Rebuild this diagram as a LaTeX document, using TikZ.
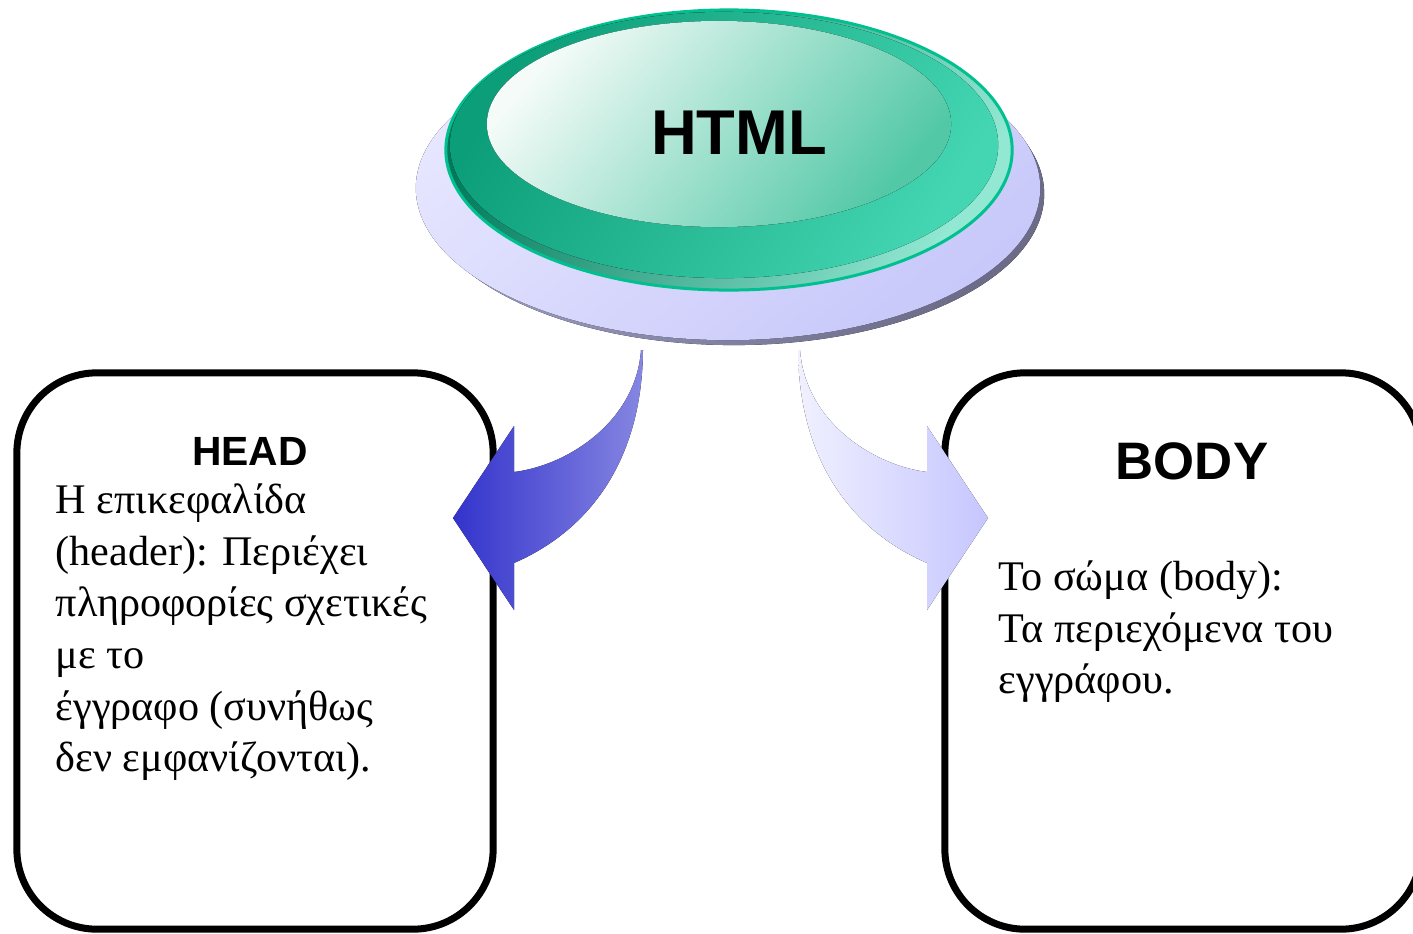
\documentclass[tikz,border=0pt]{standalone}
\usepackage{fontspec}
\setmainfont{Liberation Serif}
\setsansfont{Liberation Sans}
\usetikzlibrary{positioning}

\definecolor{discA}{HTML}{E6E6FF}
\definecolor{discB}{HTML}{C8C8FA}
\definecolor{rimA}{HTML}{A4A4CC}
\definecolor{rimB}{HTML}{6C6C88}
\definecolor{capA}{HTML}{00795A}
\definecolor{capB}{HTML}{92E8D2}
\definecolor{ringA}{HTML}{0C9E78}
\definecolor{ringB}{HTML}{44D6B2}
\definecolor{topA}{HTML}{F4FBF8}
\definecolor{topB}{HTML}{52C8A6}
\definecolor{capedge}{HTML}{00C090}
\definecolor{arrowA}{HTML}{3333CC}
\definecolor{arrowB}{HTML}{8686E2}
\definecolor{arrowC}{HTML}{F0F0FF}
\definecolor{arrowD}{HTML}{C6C6FF}

\tikzset{
  box/.style={draw=black, line width=0.07cm, rounded corners=0.8cm,
    minimum width=4.76cm, minimum height=5.56cm, inner sep=0pt},
  title/.style={font=\sffamily\bfseries},
  boxtext/.style={align=left, inner sep=0pt, anchor=north west,
    font=\fontsize{12}{14.7}\selectfont}
}

\begin{document}
\begin{tikzpicture}[x=0.01cm,y=-0.01cm]
    \useasboundingbox (0,0) rectangle (1413,933);
    \fill[top color=rimA, bottom color=rimB, shading angle=60] (734,194) ellipse [x radius=3.1cm, y radius=1.51cm];
    \fill[top color=discA, bottom color=discB, shading angle=40] (728,188) ellipse [x radius=3.12cm, y radius=1.52cm];
    \fill[top color=capA, bottom color=capB, shading angle=60] (729,150) ellipse [x radius=2.83cm, y radius=1.4cm];
    \draw[capedge, line width=0.03cm] (729,150) ellipse [x radius=2.83cm, y radius=1.4cm];
    \fill[top color=ringA, bottom color=ringB, shading angle=60] (724,145) ellipse [x radius=2.74cm, y radius=1.33cm];
    \fill[top color=topA, bottom color=topB, shading angle=50] (719,124) ellipse [x radius=2.32cm, y radius=1.03cm];
    \node[title, font=\sffamily\bfseries\fontsize{18}{20}\selectfont] (html) at (739,133) {HTML};
    \node[box] (headbox) at (255,651) {};
    \node[box] (bodybox) at (1183,651) {};
    \fill[left color=arrowA, right color=arrowB] (641,350) .. controls (636,420) and (570,465) .. (514,472)
      -- (514,426) -- (453,518) -- (514,610) -- (514,563) .. controls (590,530) and (642,460) .. (643,350) -- cycle;
    \fill[left color=arrowC, right color=arrowD] (800,350) .. controls (805,420) and (871,465) .. (927,472)
      -- (927,426) -- (988,518) -- (927,610) -- (927,563) .. controls (851,530) and (799,460) .. (798,350) -- cycle;
    \node[title, font=\sffamily\bfseries\fontsize{11.6}{14}\selectfont] (headtitle) at (250,451) {HEAD};
    \node[boxtext] (headtext) at (55,483) {Η επικεφαλίδα\\(header): Περιέχει\\πληροφορίες σχετικές\\με το\\έγγραφο (συνήθως\\δεν εμφανίζονται).};
    \node[title, font=\sffamily\bfseries\fontsize{15}{18}\selectfont] (bodytitle) at (1192,461) {BODY};
    \node[boxtext] (bodytext) at (998,560) {Το σώμα (body):\\Τα περιεχόμενα του\\εγγράφου.};
\end{tikzpicture}
\end{document}
